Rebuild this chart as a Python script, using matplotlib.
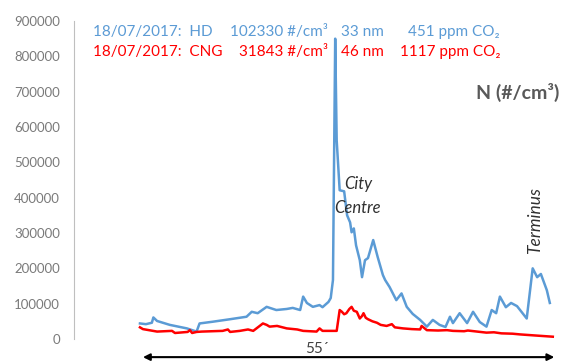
import matplotlib.pyplot as plt

# HD bus trace (minutes, #/cm3)
t_hd = [0.0, 0.8, 1.6, 1.8, 2.3, 4.0, 6.3, 7.6, 8.0, 9.8, 12.1, 14.3, 15.0, 15.8,
        17.0, 18.3, 19.7, 20.5, 21.5, 21.9, 22.4, 23.2, 24.1, 24.5, 25.3, 25.6,
        25.9, 26.2, 26.4, 26.8, 27.4, 27.8, 28.2, 28.4, 28.7, 29.0, 29.5, 29.8,
        30.2, 30.6, 31.3, 31.9, 32.6, 32.9, 33.5, 34.4, 35.1, 35.8, 36.6, 37.6,
        38.5, 39.3, 40.2, 41.0, 41.6, 42.0, 42.9, 43.9, 44.7, 45.6, 46.5, 47.2,
        47.8, 48.3, 49.1, 49.8, 50.6, 51.9, 52.7, 53.3, 53.8, 54.6, 55.0]
n_hd = [44000, 42000, 46000, 61000, 51000, 40000, 30000, 21000, 44000, 49000,
        56000, 63000, 77000, 73000, 91000, 82000, 85000, 88000, 82000, 120000,
        102000, 91000, 96000, 90000, 105000, 116000, 167000, 850000, 562000,
        421000, 418000, 350000, 330000, 302000, 313000, 265000, 223000, 175000,
        223000, 229000, 280000, 232000, 181000, 167000, 147000, 110000, 129000,
        91000, 71000, 54000, 35000, 54000, 40000, 34000, 63000, 45000, 73000,
        45000, 77000, 48000, 35000, 82000, 73000, 120000, 90000, 102000, 93000,
        58000, 200000, 175000, 184000, 138000, 102000]

# CNG bus trace
t_cng = [0.0, 0.4, 2.3, 4.3, 4.7, 6.4, 6.7, 7.0, 7.6, 8.3, 11.1, 11.8, 12.1,
         13.4, 14.5, 15.2, 16.5, 17.0, 17.4, 18.4, 19.7, 21.1, 21.9, 23.7, 24.1,
         24.5, 26.4, 26.8, 27.1, 27.4, 27.7, 28.1, 28.4, 28.7, 29.1, 29.5, 29.8,
         30.0, 30.3, 30.6, 31.2, 31.8, 32.3, 33.1, 33.8, 34.2, 35.3, 36.5, 37.6,
         37.8, 38.5, 40.0, 41.2, 42.0, 43.5, 44.0, 46.5, 47.5, 48.5, 50.0, 51.0,
         53.0, 55.4]
n_cng = [33000, 28000, 21000, 23000, 17000, 20000, 25000, 17000, 20000, 21000,
         23000, 27000, 20000, 23000, 27000, 23000, 44000, 40000, 35000, 37000,
         30000, 27000, 23000, 21000, 30000, 23000, 23000, 82000, 77000, 70000,
         73000, 85000, 91000, 80000, 77000, 58000, 65000, 73000, 60000, 56000,
         50000, 46000, 40000, 37000, 42000, 33000, 30000, 28000, 27000, 37000,
         25000, 24000, 25000, 23000, 22000, 24000, 18000, 19000, 16000, 15000,
         13000, 10000, 6500]

hd_label = ["18/07/2017:  HD", "102330 #/cm\u00b3", "33 nm", "451 ppm CO\u2082"]
cng_label = ["18/07/2017:  CNG", "31843 #/cm\u00b3", "46 nm", "1117 ppm CO\u2082"]

blue = "#5b9bd5"
red = "#ff0000"
plt.rcParams['font.family'] = ['Lato', 'DejaVu Sans']

fig = plt.figure(figsize=(5.61, 3.63), dpi=100)
ax = fig.add_axes([74 / 561, 24 / 363, 487 / 561, 318 / 363])

ax.plot(t_hd, n_hd, color=blue, lw=1.8)
ax.plot(t_cng, n_cng, color=red, lw=1.8)

ax.set_xlim(-8.85, 56.5)
ax.set_ylim(0, 900000)
ax.set_yticks(range(0, 900001, 100000))
ax.tick_params(axis='y', length=0, pad=10, labelsize=9.5, labelcolor="#7a7a7a")
ax.set_xticks([])
for s in ['top', 'right', 'bottom']:
    ax.spines[s].set_visible(False)
ax.spines['left'].set_color("#bfbfbf")

# header lines
for lab, col, yp in [(hd_label, blue, 32), (cng_label, red, 52)]:
    y = 1 - yp / 363
    fig.text(93 / 561, y, lab[0], color=col, fontsize=11, va='center', ha='left')
    fig.text(328 / 561, y, lab[1], color=col, fontsize=11, va='center', ha='right')
    fig.text(341 / 561, y, lab[2], color=col, fontsize=11, va='center', ha='left')
    fig.text(500 / 561, y, lab[3], color=col, fontsize=11, va='center', ha='right')

fig.text(559 / 561, 1 - 92 / 363, "N (#/cm\u00b3)", color="#595959", fontsize=14,
         fontweight='bold', ha='right', va='center')

ax.text(29.3, 440000, "City", style='italic', color="#303030", fontsize=12, ha='center', va='center')
ax.text(29.2, 370000, "Centre", style='italic', color="#303030", fontsize=12, ha='center', va='center')
ax.text(53.0, 335000, "Terminus", style='italic', color="#303030", fontsize=12.5,
        rotation=90, ha='center', va='center')

ax.annotate('', xy=(55.6, -0.057), xytext=(0.4, -0.057),
            xycoords=('data', 'axes fraction'), annotation_clip=False,
            arrowprops=dict(arrowstyle='<|-|>', color='black', lw=1.5,
                            mutation_scale=10, shrinkA=0, shrinkB=0))
ax.text(23.7, -0.033, "55\u00b4", transform=ax.get_xaxis_transform(),
        color="#404040", fontsize=11, ha='center', va='center')

fig.savefig("out.png", dpi=100)
